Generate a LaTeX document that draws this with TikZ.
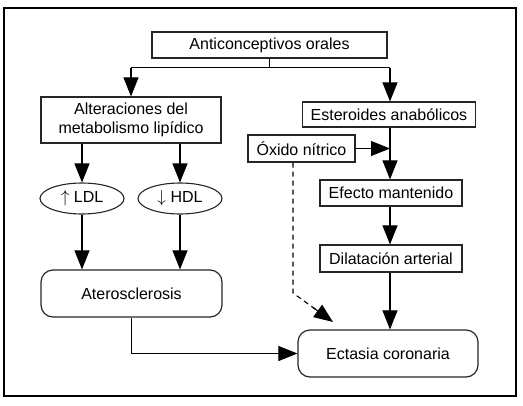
\documentclass[tikz,border=0pt]{standalone}
\usepackage{fontspec}
\setmainfont{Liberation Sans}
\usetikzlibrary{arrows.meta}
\usetikzlibrary{shapes.geometric}
\usetikzlibrary{calc}

\begin{document}
\begin{tikzpicture}[line cap=butt,line join=miter,>={Triangle[length=19pt,width=15pt]},x=1pt,y=-1pt,
  txt/.style={font=\fontsize{16}{18.5}\selectfont,align=center,inner sep=0pt},
  caja/.style={txt,draw=black!85,line width=1.2pt},
  ovalo/.style={txt,ellipse,draw=black!85,line width=1.1pt,minimum width=84pt,minimum height=31pt},
  redondo/.style={caja,rounded corners=12pt},
  linea/.style={line width=1.1pt},
  flecha/.style={->,linea}]
\useasboundingbox (0,0) rectangle (523,405);
\draw[line width=1.4pt] (4,8) rectangle (516,396);
% cajas
\node[caja,minimum width=235pt,minimum height=26pt] (anti) at (269.5,45) {Anticonceptivos orales};
\node[caja,minimum width=180pt,minimum height=46pt] (alt) at (131,120) {Alteraciones del\\metabolismo lipídico};
\node[caja,minimum width=173pt,minimum height=25pt] (est) at (389,114.5) {Esteroides anabólicos};
\node[caja,minimum width=107pt,minimum height=27pt] (ox) at (301.5,148.5) {Óxido nítrico};
\node[caja,minimum width=142pt,minimum height=26pt] (efe) at (391,193) {Efecto mantenido};
\node[caja,minimum width=142pt,minimum height=27pt] (dil) at (391,258.5) {Dilatación arterial};
\node[ovalo] (ldl) at (82,198.5) {$\uparrow$ LDL};
\node[ovalo] (hdl) at (180,198.5) {$\downarrow$ HDL};
\node[redondo,minimum width=181pt,minimum height=47pt] (ate) at (131.5,293.5) {Aterosclerosis};
\node[redondo,minimum width=180pt,minimum height=47pt] (ect) at (388,353.5) {Ectasia coronaria};
% conectores
\draw[linea] (anti.south) -- ++(0,9) coordinate (rama);
\draw[linea] (rama -| alt) -- (rama -| 390,0);
\draw[flecha] (rama -| alt) -- (alt.north);
\draw[flecha] (rama -| 390,0) -- (est.north -| 390,0);
\draw[flecha] (est.south -| 390,0) -- (efe.north -| 390,0);
\draw[flecha] (ox.east) -- (ox.east -| 390,0);
\draw[flecha] (efe.south -| 390,0) -- (dil.north -| 390,0);
\draw[flecha] (dil.south -| 390,0) -- (ect.north -| 390,0);
\draw[flecha] (alt.south -| ldl) -- (ldl);
\draw[flecha] (alt.south -| hdl) -- (hdl);
\draw[flecha] (ldl) -- (ldl |- ate.north);
\draw[flecha] (hdl) -- (hdl |- ate.north);
\draw[flecha] (ate.south) |- (ect.west);
\coordinate (codo) at (293,293);
\coordinate (punta) at (333,322);
\draw[linea,dash pattern=on 5pt off 4pt] (ox.south -| codo) -- (codo) -- ($(codo)!0.75!(punta)$);
\draw[flecha] ($(codo)!0.5!(punta)$) -- (punta);
\end{tikzpicture}
\end{document}
